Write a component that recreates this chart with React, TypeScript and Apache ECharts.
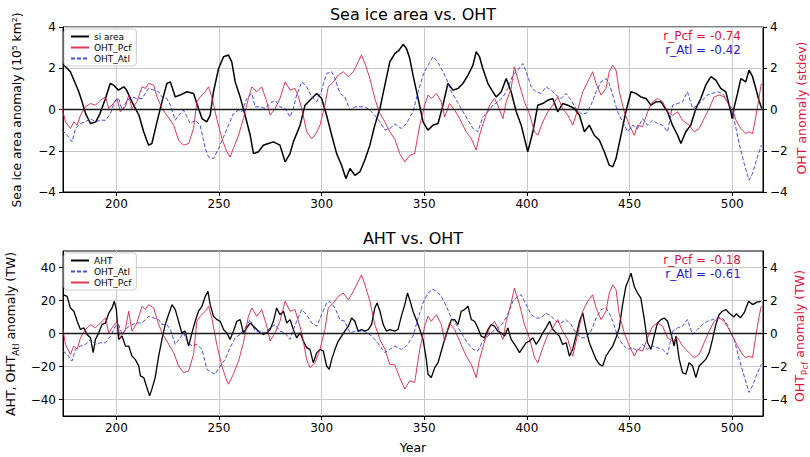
import React, { useEffect, useRef } from 'react';
import * as echarts from 'echarts';

// ---- data: [year, value] ----
const xTicks = [200, 250, 300, 350, 400, 450, 500];
const yTicksTop = [-4, -2, 0, 2, 4];
const yTicksBottomLeft = [-40, -20, 0, 20, 40];
const yTicksBottomRight = [-4, -2, 0, 2, 4];

const siArea: [number, number][] = [
  [174.4, 2.15], [176, 2.0], [177.6, 1.83], [180, 1.26], [181.7, 0.86], [183.3, 0.37], [185, -0.2], [187.4, -0.68], [190, -0.6], [192, -0.2],
  [194.7, 0.53], [197, 1.26], [198.7, 1.18], [201, 0.94], [203.6, 1.1], [205, 0.94], [207.6, 0.37], [211, -0.28], [213.3, -1.08], [215.7, -1.73],
  [217.3, -1.65], [219.8, -0.6], [222.2, 0.37], [224.6, 1.26], [226.3, 1.34], [228.7, 0.61], [231, 0.7], [234.4, 0.86], [237.6, 0.78], [239.2, 0.29],
  [241.7, -0.44], [244, -0.6], [245.7, -0.28], [247.3, 0.86], [249.8, 1.99], [252.2, 2.56], [254.6, 2.64], [256.2, 2.31], [257.9, 1.34], [260.3, 0.61],
  [262.7, -0.28], [265.2, -1.25], [266.8, -2.14], [269.2, -2.05], [271.6, -1.73], [274, -1.65], [276.5, -1.57], [279.7, -1.73], [282.2, -2.54], [284.6, -2.14],
  [286.2, -1.57], [289.5, -0.76], [291.9, 0.21], [295.1, 0.53], [297.6, 0.78], [300, 0.53], [302.4, -0.28], [304.9, -1.25], [307.3, -2.14], [309.7, -2.7],
  [311.8, -3.35], [313.8, -2.86], [316.2, -3.19], [318.6, -3.03], [321, -2.46], [323.5, -1.73], [325.9, -0.76], [328.4, 0.05], [330.8, 1.18], [333.2, 2.31],
  [335.7, 2.72], [337.5, 2.85], [339.7, 3.16], [341.3, 2.96], [342.9, 2.48], [344.5, 1.67], [347, 0.53], [349.4, -0.6], [351.8, -1.0], [354.2, -0.76],
  [356.7, -0.68], [359.1, 0.21], [361.5, 1.26], [364, 0.94], [366.4, 1.02], [368.8, 1.26], [371.3, 1.67], [373.7, 2.15], [375.3, 2.8], [376.9, 2.56],
  [378.5, 1.99], [381, 1.26], [383.4, 0.86], [385, 0.61], [387.5, 0.86], [389.9, 1.5], [392.3, 0.86], [394.8, -0.11], [397.2, -0.76], [400.4, -2.05],
  [402.9, -1.08], [405.3, 0.21], [407.7, 0.29], [410.2, 0.45], [412.6, 0.53], [415, -0.11], [417.4, 0.29], [419.9, 0.21], [423.1, 0.05], [425.6, -0.28],
  [428, -1.08], [430.4, -0.76], [432.8, -1.25], [435.3, -1.49], [437.7, -2.05], [440.1, -2.7], [441.8, -2.78], [443.4, -2.38], [445.8, -1.25], [448.2, -0.11],
  [450.7, 0.86], [453.1, 0.78], [455.5, 0.61], [458, 0.53], [460.4, 0.21], [462.8, 0.37], [465.3, 0.37], [468.5, -0.11], [470.9, -0.76], [473.4, -1.25],
  [475, -1.65], [477.4, -1.08], [479.8, -0.76], [482.3, 0.05], [484.7, 0.53], [487.1, 1.18], [489.6, 1.59], [492, 1.42], [494.4, 1.02], [496.9, 0.86],
  [499.3, -0.11], [500, -0.44], [501, 0.13], [502.6, 0.78], [504.2, 1.5], [506.6, 1.34], [508.2, 1.91], [509.9, 1.59], [511.5, 1.02], [513, 0.45], [514.4, 0.05],
];

const ohtPcfStd: [number, number][] = [
  [173.6, 0.05], [175.2, -0.6], [177.6, -0.92], [179.3, -0.6], [180.9, -0.76], [182.5, -0.28], [184.9, 0.13], [187.4, 0.29], [189.8, 0.21], [192.2, 0.45],
  [194.7, 0.61], [196.3, 0.05], [197.9, 0.21], [200.3, 0.53], [201.9, -0.11], [204.4, 0.13], [206, 0.7], [207.6, 0.05], [210, 0.37], [212.5, 1.1],
  [214.1, 1.02], [215.7, 1.26], [218.2, 1.18], [219.8, 0.61], [222.2, 0.05], [224.6, -0.28], [227.9, -0.76], [230.3, -1.49], [232.7, -1.73], [235.2, -1.65],
  [237.6, -0.92], [239.2, 0.37], [240.8, 0.61], [243.3, 0.86], [244.9, 1.1], [246.5, 0.61], [248.9, -0.44], [251.4, -1.41], [253.8, -2.05], [255.4, -2.3],
  [257, -1.89], [259.5, -1.25], [261.9, -0.44], [264.3, 0.53], [266, 1.1], [268.4, 0.86], [270.8, 1.1], [273.3, 0.37], [274.9, -0.28], [277.3, 0.05],
  [279.7, 0.53], [282.2, 1.34], [284.6, 0.94], [287, 1.02], [288.7, 0.61], [290.3, 0.05], [292.7, -1.08], [295.1, -1.41], [296.8, -1.25], [299.2, -0.76],
  [301.6, 0.21], [303.2, 1.1], [305.7, 1.34], [308.1, 1.67], [310.5, 1.83], [313, 1.59], [315.4, 1.83], [317.8, 2.31], [319.4, 2.64], [321.1, 2.23],
  [323.5, 1.5], [325.9, 0.53], [328.4, -0.2], [330.8, -0.6], [333.2, -1.08], [335.7, -1.45], [338, -2.14], [340.5, -2.54], [342.9, -2.22], [345.3, -2.14],
  [347.8, -0.76], [350.2, 0.21], [351.8, 0.7], [353.4, 0.53], [355.9, 0.78], [358.3, 0.37], [359.9, -0.36], [362.3, 0.29], [364.8, -0.03], [367.2, -0.44],
  [370.4, -1.08], [372.9, -1.41], [375.3, -1.97], [376.9, -1.25], [379.4, -0.44], [381.8, 0.21], [384.2, 0.53], [385.8, 0.21], [388.3, -0.44], [389.9, 0.37],
  [392.3, 1.02], [393.9, 2.07], [396.4, 1.18], [398.8, 0.37], [401.2, -0.2], [403.7, -1.08], [405.3, -1.25], [407.7, -0.6], [410.2, -0.11], [412.6, 0.21],
  [415, 0.61], [417.4, 0.05], [419.9, -0.28], [422.3, -0.76], [424.7, -0.03], [427.2, 0.86], [429.6, 1.34], [432, 1.83], [433.7, 1.26], [436.1, 0.7],
  [438.5, 1.02], [440.1, 1.83], [441.8, 2.15], [443.4, 1.91], [445, 0.86], [447.4, -0.11], [449.9, -0.76], [452.3, -1.25], [453.9, -0.76], [456.3, -0.84],
  [458.8, -0.11], [461.2, 0.37], [463.6, 0.53], [466.1, 0.37], [468.5, -0.11], [471, -0.28], [473.4, -0.11], [475.8, -0.52], [479, -0.76], [481.5, -1.08],
  [483.9, -0.92], [486.3, -0.44], [488.8, 0.05], [491.2, 0.61], [493.6, 0.7], [496.1, 0.61], [498.5, 0.21], [500.1, 0.05], [501.8, -0.52], [504.2, -0.92],
  [506.6, -1.17], [508.2, -1.08], [509.9, -1.17], [511.5, -0.36], [513.1, 0.61], [514.2, 1.26],
];

const ohtAtlStd: [number, number][] = [
  [173.6, -1.0], [176, -1.25], [178.4, -1.57], [180.1, -0.92], [182.5, -0.68], [184.9, -0.6], [187.4, -0.44], [189.8, -0.6], [192.2, -0.52], [194.7, -0.52],
  [197.1, -0.2], [199.5, 0.45], [201.1, 0.53], [202.8, -0.03], [205.2, 0.45], [207.6, 0.61], [210, 0.53], [212.5, 0.53], [214.1, 0.78], [215.7, 1.02],
  [218.2, 0.94], [220.6, 0.86], [222.2, 0.61], [224.6, 0.53], [226.3, 0.21], [228.7, -0.52], [230.3, -0.28], [232.7, -0.03], [234.4, -0.36], [236, -0.68],
  [238.4, -0.52], [240.8, -0.76], [243.3, -1.89], [244.9, -2.3], [247.3, -2.38], [249.8, -1.89], [252.2, -1.33], [254.6, -0.76], [257, -0.2], [259.5, -0.03],
  [261.1, -0.11], [263.5, 0.53], [266, 0.78], [267.6, 0.13], [270, 0.13], [272.4, 0.05], [274.9, 0.29], [277.3, 0.45], [279.7, 0.13], [282.2, 0.05],
  [284.6, -0.36], [286.2, 0.05], [287.8, 0.7], [290.3, 1.34], [292.7, 1.1], [295.1, 0.61], [297.6, 0.37], [300, 0.94], [302.4, 1.75], [304.9, 1.83],
  [306.5, 1.5], [308.9, 0.78], [311.3, 0.61], [313.8, -0.03], [316.2, 0.13], [318.6, 0.13], [321, 0.13], [323.5, -0.03], [325.9, -0.28], [328.4, -0.6],
  [330.8, -1.0], [333.2, -0.92], [335.7, -0.7], [338.8, -0.92], [341.3, -0.68], [344.5, -0.11], [347, 0.86], [349.4, 1.67], [351.8, 2.15], [354.2, 2.56],
  [355.9, 2.39], [358.3, 1.99], [360.7, 1.5], [363.2, 0.86], [365.6, 0.45], [368, 0.05], [370.4, -0.36], [373.7, -0.92], [376.1, -1.08], [378.5, -0.36],
  [381, -0.11], [383.4, 0.21], [385.8, 0.37], [388.3, 0.61], [390.7, 1.02], [393.1, 1.67], [395.6, 1.91], [398, 2.23], [399.6, 1.83], [402.1, 1.1],
  [404.5, 0.86], [406.9, 0.78], [409.3, 1.1], [411.8, 0.94], [414.2, 0.7], [416.6, 0.53], [419.1, 0.78], [421.5, 0.45], [423.9, 0.05], [426.4, -0.2],
  [428.8, -0.2], [431.2, 0.21], [433.7, 0.86], [436.1, 1.34], [438.5, 1.5], [440.1, 1.26], [441.8, 0.7], [444.2, -0.11], [446.6, -0.6], [449.1, -1.08],
  [451.5, -0.76], [453.9, -0.92], [456.3, -0.44], [458.8, -0.76], [461.2, -0.52], [463.6, -0.68], [466.1, -0.76], [468.5, -1.08], [471, 0.21], [473.4, 0.29],
  [475.8, 0.37], [478.2, 0.86], [480.7, 0.05], [483.1, 0.21], [485.5, 0.45], [487.9, 0.7], [490.4, 0.78], [492.8, 0.86], [495.2, 0.78], [497.7, 0.45],
  [500.1, -0.2], [501, -0.52], [503.4, -1.65], [505.8, -2.62], [508.2, -3.43], [509.9, -3.1], [512.3, -2.3], [514.2, -1.73],
];

const ahtTW: [number, number][] = [
  [174, 23.5], [176, 22.5], [177.6, 15.5], [179.3, 13.5], [180.9, 7.4], [182.5, 2.4], [184.1, 3.4], [185.7, -0.6], [187.4, -2.6], [188.7, -11.6],
  [189.8, -3.6], [191.4, 0.4], [193, 5.4], [194.7, 6.4], [196.3, 12.4], [197.9, 15.5], [199, 19.5], [200, 14.5], [201.1, -3.6], [202.8, -1.6],
  [204.4, -7.6], [206, -7.6], [207.6, -13.7], [209.2, -15.7], [210.9, -19.7], [211.7, -25.7], [213.3, -26.7], [214.6, -31.7], [216.2, -37.8], [217.3, -33.7],
  [218.9, -26.7], [220.6, -13.7], [222.2, -3.6], [223.8, 5.4], [225.4, 11.4], [227.1, 17.5], [228.7, 14.5], [230.3, 7.4], [231.9, 0.4], [233.5, 1.4],
  [235.2, -7.6], [236.8, 0.4], [238.4, 7.4], [240, 13.5], [241.7, 16.5], [243.3, 22.5], [244.6, 25.5], [245.7, 17.5], [247.3, 10.4], [249, 8.4],
  [250.6, 7.4], [252.2, 2.4], [253.8, 0.4], [255.4, -3.6], [257, 1.4], [258.7, 7.4], [260.3, 8.4], [261.9, 0.4], [263.5, 3.4], [265.2, 6.4],
  [266.8, 4.4], [268.4, 2.4], [270, 0.4], [271.6, -0.6], [273.3, 0.4], [274.9, 2.4], [276.5, 7.4], [278.1, 15.5], [279.7, 11.4], [281.4, 13.5],
  [283, 6.4], [284.6, 8.4], [286.2, 2.4], [287.8, -2.6], [289.5, 0.4], [291.1, -4.6], [292.7, -8.6], [294.3, -9.6], [295.9, -17.7], [297.6, -11.6],
  [299.2, -9.6], [300.8, -10.6], [302.4, -19.7], [303.7, -21.7], [304.9, -15.7], [306.5, -9.6], [308.1, -4.6], [309.7, -1.6], [311.3, 1.4], [313, 4.4],
  [314.6, 9.4], [316.2, 7.4], [317.8, 1.4], [319.4, 2.4], [321.1, 1.4], [322.7, 2.4], [324.3, 5.4], [325.9, 15.5], [327, 18.5], [328.4, 13.5],
  [330, 5.4], [331.6, 1.4], [333.2, 2.4], [335.6, 1.4], [337.2, 2.4], [338.8, 10.4], [340.5, 17.5], [341.8, 24.5], [342.9, 20.5], [344.5, 13.5],
  [346.1, 8.4], [347.8, 2.4], [349.4, -3.6], [351, -15.7], [351.8, -24.7], [353.4, -26.7], [355.1, -20.7], [356.7, -17.7], [358.3, -10.6], [359.9, -3.6],
  [361.5, 2.4], [363.2, 8.4], [364.8, 8.4], [366.4, 5.4], [368, 13.5], [369.6, 14.5], [371.3, 16.5], [372.9, 8.4], [374.5, 7.4], [376.1, 3.4],
  [377.7, -1.6], [379.4, -2.6], [381, 2.4], [382.6, 5.4], [384.2, 4.4], [385.8, 1.4], [387.5, 0.4], [389.1, -1.6], [390.7, 3.4], [392.3, -3.6],
  [394, -6.6], [396.4, -11.6], [398, -8.6], [399.6, -5.6], [401.2, -4.6], [402.9, -2.6], [404.5, -6.6], [406.1, -3.6], [407.7, 0.4], [409.3, 3.4],
  [411, 7.4], [412.6, 2.4], [414.2, 0.4], [415.8, -1.6], [417.4, -6.6], [419.1, -5.6], [420.7, -13.7], [422.3, -9.6], [423.9, -1.6], [425.6, 7.4],
  [427.2, 12.4], [428.8, 2.4], [430.4, -5.6], [432, -10.6], [433.7, -15.7], [435.3, -18.7], [436.9, -19.7], [438.5, -13.7], [440.1, -10.6], [441.8, -7.6],
  [443.4, -2.6], [445, 3.4], [446.6, 17.5], [448.2, 28.5], [449.5, 32.5], [450.7, 36.5], [452.3, 28.5], [453.9, 24.5], [455.5, 21.5], [457.2, 8.4],
  [458.8, -5.6], [460.4, -9.6], [462, -1.6], [463.6, 6.4], [465.3, 8.4], [466.9, 9.4], [468.5, 7.4], [470.1, 0.4], [471.7, -7.6], [472.6, -1.6],
  [474.2, -15.7], [475.8, -23.7], [477.4, -24.7], [479, -17.7], [480.7, -19.7], [482.3, -26.7], [483.9, -19.7], [485.5, -17.7], [487.1, -15.7], [488.8, -11.6],
  [490.4, -3.6], [492, 5.4], [493.6, 11.4], [495.2, 13.5], [496.9, 14.5], [498.5, 12.4], [500.9, 10], [502, 12], [504, 9.5], [506, 13],
  [508, 19.5], [510, 17.5], [512, 19], [514, 19.5],
];

const ohtAtlTW: [number, number][] = [
  [174, -10.6], [176, -12.7], [178.4, -16.7], [180.1, -9.6], [182.5, -7.6], [184.9, -6.6], [187.4, -3.6], [189.8, -6.6], [192.2, -5.6], [194.7, -5.6],
  [197.1, -1.6], [199.5, 4.4], [201.1, 5.4], [202.8, -0.6], [205.2, 3.4], [207.6, 5.4], [210, 6.4], [212.5, 6.4], [214.1, 8.4], [215.7, 10.4],
  [218.2, 9.4], [220.6, 8.4], [222.2, 5.4], [224.6, 5.4], [226.3, 2.4], [228.7, -6.6], [231.1, -2.6], [232.7, 0.4], [234.4, -4.6], [236.8, -7.6],
  [239.2, -6.6], [241.7, -9.6], [244.1, -21.7], [246.5, -23.7], [248.1, -24.7], [250.6, -19.7], [253, -15.7], [255.4, -8.6], [257.9, -2.6], [260.3, -0.6],
  [262.7, 3.4], [265.2, 8.4], [267.6, 1.4], [270, 1.4], [272.4, 0.4], [274.9, 3.4], [277.3, 5.4], [279.7, 1.4], [282.2, 0.4], [284.6, -3.6],
  [286.2, 2.4], [287.8, 7.4], [290.3, 14.5], [292.7, 11.4], [295.1, 6.4], [297.6, 4.4], [300, 11.4], [302.4, 18.5], [304, 19.5], [306.5, 15.5],
  [308.9, 8.4], [311.3, 7.4], [313.8, 0.4], [316.2, 1.4], [318.6, 1.4], [321, 1.4], [323.5, -0.6], [325.9, -3.6], [328.4, -7.6], [330.8, -11.6],
  [333.2, -9.6], [335.6, -7.6], [338.8, -9.6], [341.3, -7.6], [344.5, -1.6], [347, 9.4], [349.4, 18.5], [351.8, 24.5], [354.2, 26.9], [355.9, 25.5],
  [358.3, 22.5], [360.7, 16.5], [363.2, 9.4], [365.6, 5.4], [368, 0.4], [370.4, -4.6], [373.7, -9.6], [376.1, -10.6], [378.5, -4.6], [381, -1.6],
  [383.4, 1.4], [385.8, 3.4], [388.3, 6.4], [390.7, 11.4], [393.1, 19.5], [395.6, 22.5], [397.2, 23.5], [399.6, 17.5], [402.1, 11.4], [404.5, 9.4],
  [406.9, 9.4], [409.3, 12.4], [411.8, 10.4], [414.2, 7.4], [416.6, 6.4], [419.1, 8.4], [421.5, 5.4], [423.9, 0.4], [426.4, -2.6], [428.8, -2.6],
  [431.2, 1.4], [433.7, 9.4], [436.1, 14.5], [438.5, 15.5], [440.1, 12.4], [441.8, 7.4], [444.2, -1.6], [446.6, -6.6], [449.1, -9.6], [451.5, -8.6],
  [453.9, -10.6], [456.3, -6.6], [458.8, -9.6], [461.2, -7.6], [463.6, -8.6], [466.1, -9.6], [468.5, -12.7], [471, 1.4], [473.4, 3.4], [475.8, 4.4],
  [478.2, 8.4], [480.7, -0.6], [483.1, 2.4], [485.5, 5.4], [487.9, 7.4], [490.4, 8.4], [492.8, 9.4], [495.2, 9.4], [497.7, 5.4], [500.1, -1.6],
  [501, -3.6], [503.4, -15.7], [505.8, -25.7], [508.2, -35.7], [509.9, -31.7], [512.3, -23.7], [514.2, -18.7],
];

const ohtPcfTW: [number, number][] = [
  [174, 0.24], [175.2, -0.66], [177.6, -1.27], [179.3, -0.76], [180.9, -0.96], [182.5, -0.26], [184.9, 0.24], [187.4, 0.54], [189.8, 0.34], [192.2, 0.64],
  [194.7, 0.94], [196.3, 0.04], [197.9, 0.34], [200.3, 0.74], [201.9, -0.26], [204.4, 0.24], [206, 1.35], [207.6, 0.14], [210, 0.64], [212.5, 1.65],
  [214.1, 1.45], [215.7, 1.75], [218.2, 1.55], [219.8, 0.84], [222.2, 0.04], [224.6, -0.46], [227.9, -1.16], [230.3, -1.97], [232.7, -2.37], [235.2, -2.27],
  [237.6, -1.27], [239.2, 0.74], [240.8, 1.04], [243.3, 1.35], [244.9, 1.65], [246.5, 0.94], [248.9, -0.66], [251.4, -1.97], [253.8, -2.87], [254.6, -3.07],
  [257, -2.47], [259.5, -1.67], [261.9, -0.56], [264.3, 1.04], [266, 1.55], [268.4, 1.04], [270.8, 1.45], [273.3, 0.44], [274.9, -0.46], [277.3, 0.04],
  [279.7, 0.74], [282.2, 1.95], [284.6, 1.35], [287, 1.45], [288.7, 0.74], [290.3, 0.04], [292.7, -1.57], [294.3, -2.07], [296.8, -1.77], [299.2, -0.96],
  [301.6, 0.24], [303.2, 1.55], [305.7, 1.85], [308.1, 2.25], [310.5, 2.45], [313, 2.05], [315.4, 2.55], [317.8, 3.15], [319.4, 3.55], [321.1, 2.95],
  [323.5, 1.95], [325.9, 0.54], [328.4, -0.36], [330.8, -0.96], [333.2, -1.87], [335.6, -1.9], [338, -2.67], [340.5, -3.37], [342.9, -2.87], [345.3, -2.97],
  [347.8, -0.96], [350.2, 0.44], [351.8, 1.04], [353.4, 0.74], [355.9, 1.14], [358.3, 0.54], [359.9, -0.46], [362.3, 0.64], [364.8, 0.24], [367.2, -0.46],
  [370.4, -1.37], [372.9, -1.87], [375.3, -2.67], [376.9, -1.57], [379.4, -0.46], [381.8, 0.34], [384.2, 0.74], [385.8, 0.34], [388.3, -0.36], [389.9, 0.74],
  [392.3, 1.85], [393.9, 2.75], [396.4, 1.75], [398.8, 0.54], [401.2, -0.26], [403.7, -1.47], [405.3, -1.77], [407.7, -0.86], [410.2, -0.06], [412.6, 0.34],
  [415, 0.84], [417.4, 0.14], [419.9, -0.36], [422.3, -1.37], [424.7, -0.06], [427.2, 1.35], [429.6, 1.95], [432, 2.35], [433.7, 1.55], [436.1, 0.84],
  [438.5, 1.35], [440.1, 2.45], [441.8, 2.95], [443.4, 2.65], [445, 1.14], [447.4, 0.04], [449.9, -0.76], [452.3, -1.37], [453.9, -0.96], [456.3, -1.06],
  [458.8, -0.26], [461.2, 0.44], [463.6, 0.64], [466.1, 0.44], [468.5, -0.26], [471, -0.46], [473.4, -0.26], [475.8, -0.76], [479, -1.17], [481.5, -1.47],
  [483.9, -1.27], [486.3, -0.56], [488.8, 0.14], [491.2, 0.74], [493.6, 0.94], [496.1, 0.74], [498.5, 0.24], [500.1, -0.16], [502.6, -0.76], [505, -1.27],
  [506.6, -1.47], [508.2, -1.37], [509.9, -1.47], [511.5, -0.16], [513.1, 1.04], [514.2, 1.65],
];

const FONT = 'DejaVu Sans';
const RED = '#dc143c';
const BLUE = '#2530d8';
const GRIDC = '#c9c9c9';

const fmt = (v: number) => (v < 0 ? '\u2212' + Math.abs(v) : String(v));

function xAxisCfg(gridIndex: number) {
  return {
    type: 'value', gridIndex, min: 174, max: 515, splitNumber: 7,
    axisLine: { show: true, onZero: false, lineStyle: { color: '#000', width: 1 } },
    axisTick: { show: true, length: 4, customValues: xTicks, lineStyle: { color: '#000' } },
    axisLabel: { customValues: xTicks, fontSize: 12, color: '#000', fontFamily: FONT, margin: 6 },
    splitLine: { show: true, lineStyle: { color: GRIDC, width: 1 } },
  };
}

function yAxisCfg(gridIndex: number, pos: 'left' | 'right', min: number, max: number, ticks: number[], split: boolean) {
  return {
    type: 'value', gridIndex, position: pos, min, max, splitNumber: 5,
    axisLine: { show: true, onZero: false, lineStyle: { color: '#000', width: 1 } },
    axisTick: { show: true, length: 4, customValues: ticks, lineStyle: { color: '#000' } },
    axisLabel: { customValues: ticks, fontSize: 12, color: '#000', fontFamily: FONT, margin: 7, formatter: fmt },
    splitLine: { show: split, lineStyle: { color: GRIDC, width: 1 } },
  };
}

const zeroLine = {
  silent: true, symbol: ['none', 'none'], label: { show: false },
  lineStyle: { color: '#1a1a1a', width: 1.4, type: 'solid' },
  data: [{ yAxis: 0 }],
};

const legendBase = {
  orient: 'vertical', itemWidth: 18, itemHeight: 10, itemGap: 2,
  padding: [3, 5, 3, 6], backgroundColor: 'rgba(255,255,255,0.85)',
  borderColor: '#cfcfcf', borderWidth: 1, borderRadius: 3,
  itemStyle: { opacity: 0 },
  textStyle: { fontSize: 9, color: '#000', fontFamily: FONT },
};

const txt = (x: number, y: number, text: string, fontSize: number, fill: string, align = 'center', rotation = 0, rich?: any) => ({
  type: 'text', x, y, rotation, silent: true,
  style: { text, fontSize, lineHeight: fontSize, fill, fontFamily: FONT, align, verticalAlign: 'middle', rich },
});

export default function App() {
  const ref = useRef<HTMLDivElement>(null);
  useEffect(() => {
    const chart = echarts.init(ref.current!, null, { renderer: 'svg' });
    const richBlack = {
      a: { fontSize: 12.5, fontFamily: FONT, fill: '#000', lineHeight: 16, verticalAlign: 'top' },
      s: { fontSize: 9, fontFamily: FONT, fill: '#000', lineHeight: 10, verticalAlign: 'bottom' },
    };
    const richRed = {
      a: { fontSize: 12.5, fontFamily: FONT, fill: RED, lineHeight: 16, verticalAlign: 'top' },
      s: { fontSize: 9, fontFamily: FONT, fill: RED, lineHeight: 10, verticalAlign: 'bottom' },
    };
    chart.setOption({
      animation: false,
      backgroundColor: '#fff',
      textStyle: { fontFamily: FONT },
      grid: [
        { left: 63, top: 27, width: 700, height: 165, show: true, borderColor: '#000', borderWidth: 1 },
        { left: 63, top: 251, width: 700, height: 165, show: true, borderColor: '#000', borderWidth: 1 },
      ],
      xAxis: [xAxisCfg(0), xAxisCfg(1)],
      yAxis: [
        yAxisCfg(0, 'left', -4, 4, yTicksTop, true),
        yAxisCfg(0, 'right', -4, 4, yTicksTop, false),
        yAxisCfg(1, 'left', -50, 50, yTicksBottomLeft, true),
        yAxisCfg(1, 'right', -5, 5, yTicksBottomRight, false),
      ],
      legend: [
        { ...legendBase, left: 64, top: 29, data: ['si area', 'OHT_Pcf', 'OHT_Atl'] },
        { ...legendBase, left: 64, top: 253, data: ['AHT', 'OHT_Atl', 'OHT_Pcf'] },
      ],
      series: [
        { name: 'si area', type: 'line', xAxisIndex: 0, yAxisIndex: 0, data: siArea, symbol: 'none', lineStyle: { color: '#000', width: 1.5 }, itemStyle: { color: '#000' }, markLine: zeroLine },
        { name: 'OHT_Pcf', type: 'line', xAxisIndex: 0, yAxisIndex: 1, data: ohtPcfStd, symbol: 'none', lineStyle: { color: RED, width: 1, opacity: 0.85 }, itemStyle: { color: RED } },
        { name: 'OHT_Atl', type: 'line', xAxisIndex: 0, yAxisIndex: 1, data: ohtAtlStd, symbol: 'none', lineStyle: { color: BLUE, width: 1, type: [4, 2], opacity: 0.85 }, itemStyle: { color: BLUE } },
        { name: 'AHT', type: 'line', xAxisIndex: 1, yAxisIndex: 2, data: ahtTW, symbol: 'none', lineStyle: { color: '#000', width: 1.3 }, itemStyle: { color: '#000' }, markLine: zeroLine },
        { name: 'OHT_Atl', type: 'line', xAxisIndex: 1, yAxisIndex: 2, data: ohtAtlTW, symbol: 'none', lineStyle: { color: BLUE, width: 1, type: [4, 2], opacity: 0.85 }, itemStyle: { color: BLUE } },
        { name: 'OHT_Pcf', type: 'line', xAxisIndex: 1, yAxisIndex: 3, data: ohtPcfTW, symbol: 'none', lineStyle: { color: RED, width: 1, opacity: 0.85 }, itemStyle: { color: RED } },
      ],
      graphic: [
        txt(413, 14, 'Sea ice area vs. OHT', 16, '#000'),
        txt(413, 238, 'AHT vs. OHT', 16, '#000'),
        txt(413, 447, 'Year', 12.5, '#000'),
        txt(741, 36, 'r_Pcf = -0.74', 12, RED, 'right'),
        txt(741, 50, 'r_Atl = -0.42', 12, '#1c1ccc', 'right'),
        txt(741, 260, 'r_Pcf = -0.18', 12, RED, 'right'),
        txt(741, 274, 'r_Atl = -0.61', 12, '#1c1ccc', 'right'),
        txt(17, 110, 'Sea ice area anomaly (10\u2075 km\u00b2)', 12.3, '#000', 'center', Math.PI / 2),
        txt(801, 108, 'OHT anomaly (stdev)', 12.5, RED, 'center', Math.PI / 2),
        txt(12, 334, '{a|AHT, OHT}{s|Atl}{a| anomaly (TW)}', 12.5, '#000', 'center', Math.PI / 2, richBlack),
        txt(801, 336, '{a|OHT}{s|Pcf}{a| anomaly (TW)}', 12.5, RED, 'center', Math.PI / 2, richRed),
      ],
    });
    return () => chart.dispose();
  }, []);
  return <div ref={ref} style={{ position: 'fixed', left: 0, top: 0, width: 810, height: 457, background: '#fff' }} />;
}
